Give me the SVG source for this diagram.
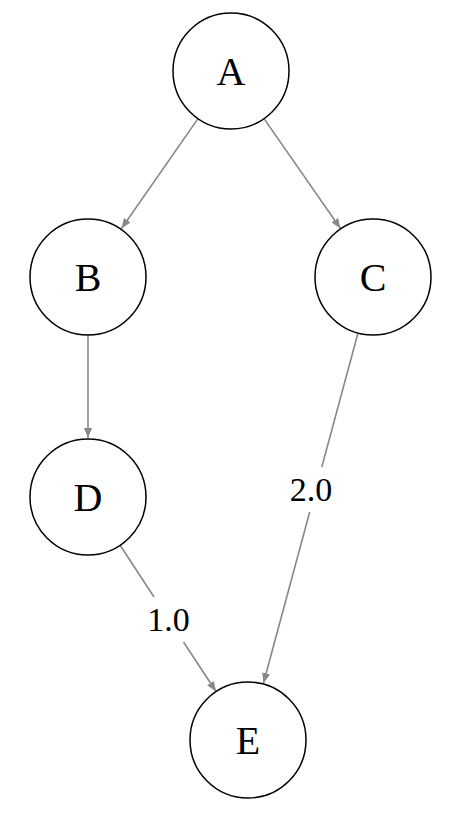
<svg xmlns="http://www.w3.org/2000/svg" width="460" height="816" viewBox="0 0 460 816">
<style>
.node circle{fill:#fff;stroke:#000;stroke-width:1.5}
.node text{font-family:"Liberation Serif","Times New Roman",serif;font-size:40px;fill:#000;text-anchor:middle}
.edge line{stroke:#888;stroke-width:1.6}
.edge line.head{marker-end:url(#arr)}
.elabel{font-family:"Liberation Serif","Times New Roman",serif;font-size:34px;fill:#000;text-anchor:middle}
</style>
<defs>
<marker id="arr" viewBox="0 0 10 10" refX="10" refY="5" markerWidth="10" markerHeight="10" markerUnits="userSpaceOnUse" orient="auto">
<path d="M0,1 L10,5 L0,9 Z" fill="#888"/>
</marker>
</defs>
<rect width="460" height="816" fill="#fff"/>
<g id="connectors" class="edge">
<line class="head" x1="198" y1="118.6" x2="121.5" y2="228.5"/>
<line class="head" x1="264" y1="118.6" x2="340.5" y2="228.5"/>
<line class="head" x1="88" y1="335" x2="88" y2="438"/>
<line x1="120" y1="545" x2="154" y2="597"/>
<line class="head" x1="183.5" y1="642" x2="216" y2="691.5"/>
<line x1="358" y1="333" x2="321.8" y2="467"/>
<line class="head" x1="309.7" y1="512" x2="263.5" y2="683"/>
<text class="elabel" x="168.5" y="631">1.0</text>
<text class="elabel" x="311" y="501">2.0</text>
</g>
<g id="A" class="node"><circle cx="231" cy="71" r="58"/><text x="231" y="85">A</text></g>
<g id="B" class="node"><circle cx="88" cy="277" r="58"/><text x="88" y="291">B</text></g>
<g id="C" class="node"><circle cx="373" cy="277" r="58"/><text x="373" y="291">C</text></g>
<g id="D" class="node"><circle cx="88" cy="497" r="58"/><text x="88" y="511">D</text></g>
<g id="E" class="node"><circle cx="248" cy="740" r="58"/><text x="248" y="754">E</text></g>
</svg>
